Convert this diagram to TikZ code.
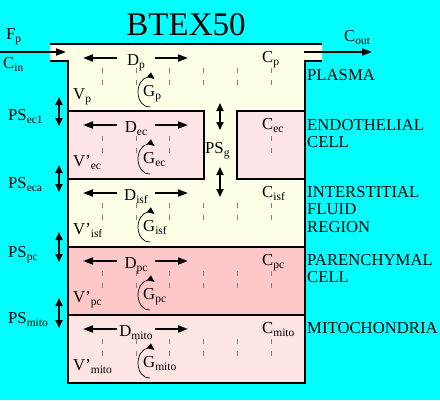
\documentclass[tikz,border=0pt]{standalone}
\usepackage{fontspec}
\setmainfont{Liberation Serif}
\usetikzlibrary{positioning,arrows.meta,calc}
\definecolor{bgcyan}{RGB}{0,255,255}
\definecolor{cream}{RGB}{255,255,232}
\definecolor{ecpink}{RGB}{255,228,232}
\definecolor{pcpink}{RGB}{255,200,200}
\definecolor{mitopink}{RGB}{255,228,228}
\newcommand{\sbs}[1]{\raisebox{-3.5pt}{\fontsize{11.5}{12}\selectfont #1}}

\begin{document}
\begin{tikzpicture}[x=1pt,y=-1pt,
mywall/.style={draw=black,line width=1.8pt},
myarrow/.style={line width=1.8pt,-{Triangle[length=10pt,width=7pt]}},
mytwo/.style={line width=1.8pt,{Triangle[length=8pt,width=7pt]}-{Triangle[length=8pt,width=7pt]}},
mydash/.style={gray,line width=0.8pt,dash pattern=on 5pt off 7pt},
myspin/.style={line width=0.7pt,-{Triangle[length=7pt,width=6pt]}},
mytext/.style={inner sep=0pt,anchor=base west,font=\fontsize{16.7}{17.5}\selectfont}
]
\fill[bgcyan] (0,0) rectangle (440,400);
\useasboundingbox (0,0) rectangle (440,400);

% compartments
\fill[cream] (50,44) -- (322,44) -- (322,61) -- (305,61) -- (305,383)
  -- (68,383) -- (68,61) -- (50,61) -- cycle;
\fill[ecpink] (68,111) rectangle (204,179);
\fill[ecpink] (237,111) rectangle (305,179);
\fill[pcpink] (68,247) rectangle (305,315);
\fill[mitopink] (68,315) rectangle (305,383);

% diffusion grid
\foreach \Top in {44,179,247,315}
  \foreach \X in {102,136,169,203,237,271}
    \draw[mydash] (\X,\Top+24) -- (\X,\Top+41);
\foreach \X in {102,136,169,271}
  \draw[mydash] (\X,136) -- (\X,153);

% walls
\draw[mywall] (68,111) rectangle (204,179);
\draw[mywall] (237,111) rectangle (305,179);
\draw[mywall] (68,247) rectangle (305,315);
\draw[mywall] (68,315) rectangle (305,383);
\draw[mywall] (50,44) -- (322,44);
\draw[mywall] (50,61) -- (68,61) -- (68,383) -- (305,383) -- (305,61) -- (322,61);

% rows
\foreach \Top/\Nm/\Vl in {44/p/V, 111/ec/V', 179/isf/V', 247/pc/V', 315/mito/V'}
{
  \node[mytext,anchor=base] (D\Nm) at (136,\Top+21) {D\sbs{\Nm}};
  \coordinate (DLa\Nm) at (117,\Top+14);
  \coordinate (DLb\Nm) at (83,\Top+14);
  \coordinate (DRa\Nm) at (155,\Top+14);
  \coordinate (DRb\Nm) at (188,\Top+14);
  \draw[myarrow] (DLa\Nm) -- (DLb\Nm);
  \draw[myarrow] (DRa\Nm) -- (DRb\Nm);
  \draw[myspin] (149,\Top+48) ++(85:11 and 15)
    arc[start angle=85,end angle=300,x radius=11,y radius=15];
  \node[mytext] (G\Nm) at (143,\Top+52) {G\sbs{\Nm}};
  \node[mytext] (V\Nm) at (73,\Top+55) {\Vl\sbs{\Nm}};
  \node[mytext] (C\Nm) at (262,\Top+18) {C\sbs{\Nm}};
}

% permeability
\node[mytext] (PSecl) at (8,120) {PS\sbs{ec1}};
\node[mytext] (PSeca) at (8,188) {PS\sbs{eca}};
\node[mytext] (PSpc) at (8,257) {PS\sbs{pc}};
\node[mytext] (PSmito) at (8,323) {PS\sbs{mito}};
\node[mytext] (PSg) at (205,153) {PS\sbs{g}};
\foreach \Ya/\Yb in {97/126,165/192,232/262,298/328}
  \draw[mytwo] (59,\Ya) -- (59,\Yb);
\foreach \Ya/\Yb in {103/130,167/197}
  \draw[mytwo] (220,\Ya) -- (220,\Yb);

% flow in and out
\coordinate (inA) at (0,52);
\coordinate (inB) at (66,52);
\coordinate (outA) at (304,52);
\coordinate (outB) at (372,52);
\draw[myarrow] (inA) -- (inB);
\draw[myarrow] (outA) -- (outB);
\node[mytext] (Fp) at (6,39) {F\sbs{p}};
\node[mytext] (Cin) at (3,68) {C\sbs{in}};
\node[mytext] (Cout) at (344,41) {C\sbs{out}};

% names (base of a multi-line node is its last line)
\node[inner sep=0pt,anchor=base,font=\fontsize{33}{33}\selectfont] (title) at (186,35) {BTEX50};
\node[mytext] (plasma) at (307,80) {PLASMA};
\node[mytext,align=left] (endo) at (307,147.5) {ENDOTHELIAL\\CELL};
\node[mytext,align=left] (isf) at (307,232) {INTERSTITIAL\\FLUID\\REGION};
\node[mytext,align=left] (paren) at (307,282.5) {PARENCHYMAL\\CELL};
\node[mytext] (mito) at (307,333) {MITOCHONDRIA};
\end{tikzpicture}
\end{document}
